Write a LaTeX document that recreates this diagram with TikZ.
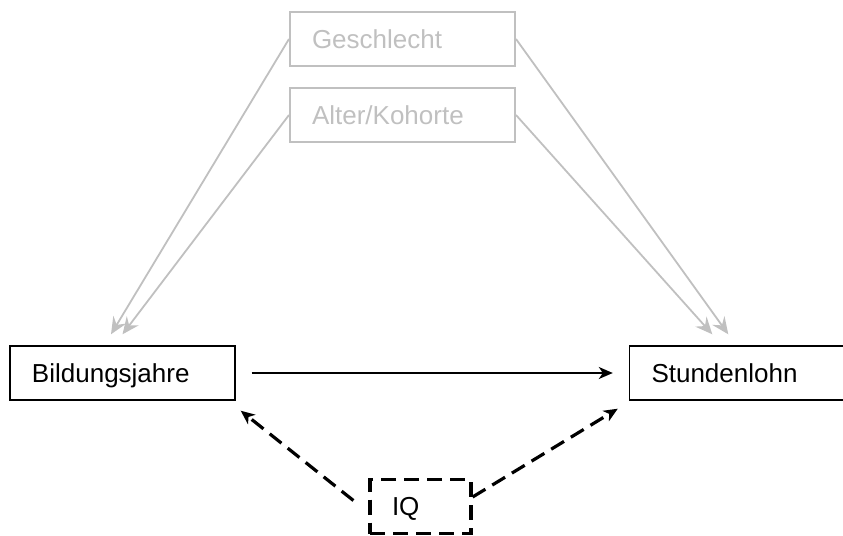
\documentclass[tikz,border=0pt]{standalone}
\usepackage{fontspec}
\setmainfont{Liberation Sans}
\usetikzlibrary{arrows.meta}
\definecolor{confgray}{RGB}{192,192,192}

\begin{document}
\begin{tikzpicture}[x=0.5pt,y=-0.5pt,
  var/.style={rectangle, draw, line width=0.7pt, minimum height=27pt, inner xsep=11pt, inner ysep=0pt,
    text width=90.5pt, text height=9.3pt, text depth=0pt, align=left, font=\fontsize{13}{15}\selectfont},
  confvar/.style={var, draw=confgray, text=confgray, line width=1pt},
  confarrow/.style={draw=confgray, line width=0.9pt, -{Stealth[length=8.5pt,width=7.5pt,inset=3pt]}},
  iqarrow/.style={line width=1.6pt, dash pattern=on 7.5pt off 4pt, -{Stealth[length=7pt,width=6pt,inset=2pt]}}]
\clip (0,0) rectangle (843,536);
%%% Draws the variables
% confounders at the top
\node[confvar] (geschlecht) at (402.5,39) {Geschlecht};
\node[confvar] (alter) at (402.5,115) {Alter/Kohorte};
% treatment and outcome
\node[var] (bildung) at (122.5,373) {Bildungsjahre};
\node[var, text width=100pt] (lohn) at (751.5,373) {Stundenlohn};
% unobserved variable
\node[var, dash pattern=on 7.5pt off 4pt, line width=1.6pt, text width=28.5pt] (iq) at (420.5,506.5) {IQ};
%%% Draws the arrows
% effects of the confounders
\draw[confarrow] (geschlecht.west) to ([xshift=-5.75pt,yshift=5.5pt]bildung.north);
\draw[confarrow] (alter.west) to ([yshift=5.5pt]bildung.north);
\draw[confarrow] (geschlecht.east) to ([xshift=49.75pt,yshift=5.5pt]lohn.north west);
\draw[confarrow] (alter.east) to ([xshift=41.75pt,yshift=5.5pt]lohn.north west);
% effect of interest
\draw[line width=0.8pt, -{Stealth[length=7pt,width=6pt,inset=2pt]}, shorten <=8pt, shorten >=8pt] (bildung.east) to (lohn.west);
% effects of the IQ
\draw[iqarrow] ([xshift=-7.5pt,yshift=3pt]iq.west) to ([xshift=2.5pt,yshift=-5pt]bildung.south east);
\draw[iqarrow] ([yshift=4.75pt]iq.east) to ([xshift=-5.5pt,yshift=-4pt]lohn.south west);
\end{tikzpicture}
\end{document}
